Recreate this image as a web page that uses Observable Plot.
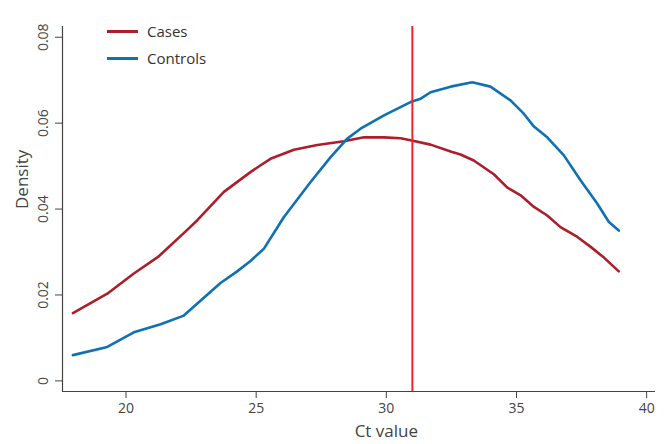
<!DOCTYPE html>
<html>
<head>
<meta charset="utf-8">
<script src="https://cdn.jsdelivr.net/npm/d3@7"></script>
<script src="https://cdn.jsdelivr.net/npm/@observablehq/plot@0.6"></script>
<style>
  html, body { margin: 0; padding: 0; background: #fff; }
  #wrap { position: relative; width: 666px; height: 444px; font-family: "Open Sans", sans-serif; }
  .legend { position: absolute; left: 107px; font-size: 15px; color: #333; display: flex; align-items: center; }
  .legend span.sw { display: inline-block; width: 31px; height: 3px; margin-right: 9px; }
</style>
</head>
<body>
<div id="wrap"></div>
<script>
const seriesNames = ["Cases", "Controls"];
const seriesColors = ["#ac1f2a", "#1070b4"];
const cutoffColor = "#ec262c";

const casesX = [17.96, 19.28, 20.30, 21.26, 22.29, 22.74, 23.76, 24.78, 25.17, 25.55, 26.45, 27.35, 28.37, 29.14, 29.91, 30.55, 30.93, 31.70, 32.47, 32.85, 33.36, 34.13, 34.65, 35.16, 35.67, 36.18, 36.69, 37.34, 37.85, 38.36, 38.93];
const casesY = [0.0158, 0.0203, 0.0250, 0.0290, 0.0348, 0.0374, 0.0440, 0.0486, 0.0502, 0.0517, 0.0538, 0.0549, 0.0558, 0.0567, 0.0567, 0.0565, 0.0560, 0.0550, 0.0534, 0.0527, 0.0513, 0.0481, 0.0450, 0.0432, 0.0405, 0.0385, 0.0358, 0.0335, 0.0312, 0.0287, 0.0255];

const controlsX = [17.96, 19.28, 20.30, 21.33, 22.22, 22.74, 23.63, 24.27, 24.78, 25.30, 26.06, 27.09, 27.86, 28.50, 29.01, 29.91, 30.93, 31.32, 31.70, 32.47, 33.30, 34.00, 34.77, 35.28, 35.67, 36.18, 36.82, 37.46, 38.10, 38.55, 38.93];
const controlsY = [0.0060, 0.0079, 0.0113, 0.0132, 0.0152, 0.0180, 0.0228, 0.0255, 0.0279, 0.0308, 0.0381, 0.0463, 0.0521, 0.0564, 0.0587, 0.0618, 0.0649, 0.0657, 0.0672, 0.0685, 0.0695, 0.0685, 0.0653, 0.0622, 0.0592, 0.0567, 0.0525, 0.0467, 0.0413, 0.0370, 0.0350];

const cutoff = [31.0];
const xTicks = [20, 25, 30, 35, 40];
const yTicks = [0, 0.02, 0.04, 0.06, 0.08];
const xDomain = [17.56, 40.34];
const yDomain = [-0.00247, 0.0825];
const xLabel = "Ct value";
const yLabel = "Density";
const xLabelAt = [30];

const cases = casesX.map((x, i) => ({x, y: casesY[i]}));
const controls = controlsX.map((x, i) => ({x, y: controlsY[i]}));
const yFmt = d => d === 0 ? "0" : d.toFixed(2);

const chart = Plot.plot({
  width: 666,
  height: 444,
  marginLeft: 62,
  marginRight: 11,
  marginTop: 26,
  marginBottom: 53,
  style: {fontFamily: "Open Sans, sans-serif", background: "#fff"},
  x: {domain: xDomain},
  y: {domain: yDomain},
  marks: [
    Plot.axisX({ticks: xTicks, tickSize: 7, tickPadding: 5, fontSize: 14, label: null, color: "#444", stroke: "#444"}),
    Plot.axisY({ticks: yTicks, tickSize: 7, tickFormat: () => "", label: null, stroke: "#444"}),
    Plot.text(yTicks, {x: () => xDomain[0], y: d => d, text: yFmt, rotate: -90, dx: -19, textAnchor: "middle", lineAnchor: "middle", fontSize: 14, fill: "#444"}),
    Plot.ruleY([yDomain[0]], {stroke: "#444", strokeWidth: 1.2}),
    Plot.ruleX([xDomain[0]], {stroke: "#444", strokeWidth: 1.2}),
    Plot.line(cases, {x: "x", y: "y", stroke: seriesColors[0], strokeWidth: 2.6}),
    Plot.line(controls, {x: "x", y: "y", stroke: seriesColors[1], strokeWidth: 2.6}),
    Plot.ruleX(cutoff, {stroke: cutoffColor, strokeWidth: 2}),
    Plot.text([xLabel], {x: () => xLabelAt[0], frameAnchor: "bottom", dy: 45, fontSize: 17, fill: "#444"}),
    Plot.text([yLabel], {frameAnchor: "left", rotate: -90, dx: -40, fontSize: 17, fill: "#444"})
  ]
});

const wrap = document.getElementById("wrap");
wrap.appendChild(chart);
const legendTops = [31, 58];
seriesNames.forEach((name, i) => {
  const d = document.createElement("div");
  d.className = "legend";
  d.style.top = (legendTops[i] - 11) + "px";
  d.style.height = "22px";
  d.innerHTML = `<span class="sw" style="background:${seriesColors[i]}"></span>${name}`;
  wrap.appendChild(d);
});
</script>
</body>
</html>
